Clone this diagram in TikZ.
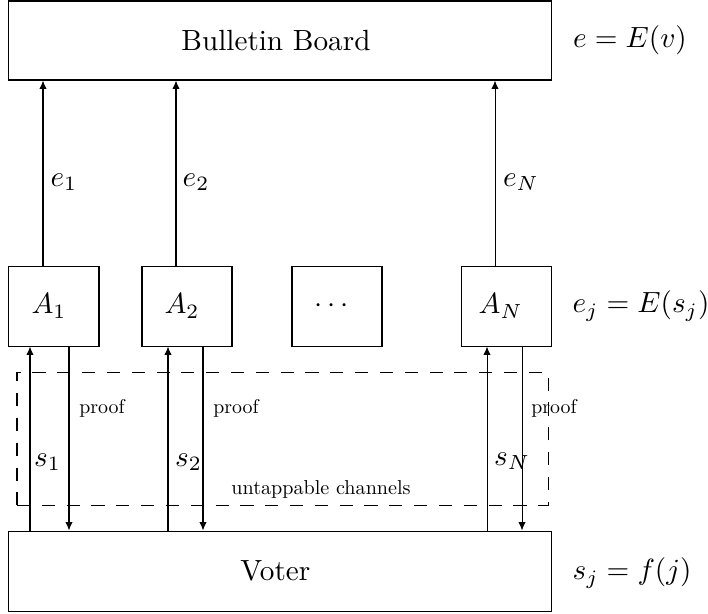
\documentclass[tikz,border=0pt]{standalone}
\usepackage{graphicx}
\usetikzlibrary{fit,arrows.meta}
\begin{document}
\begin{tikzpicture}[x=0.3425pt,y=-0.3425pt,
  box/.style={draw, line width=0.35pt, inner sep=0pt},
  chan/.style={draw, line width=0.35pt, inner sep=0pt, dash pattern=on 4.5pt off 4pt},
  arr/.style={line width=0.35pt, -{Latex[length=2.9pt,width=2.5pt]}},
  small/.style={inner sep=0pt}]
  \useasboundingbox (0,0) rectangle (708,613);

  % main boxes
  \node[box, fit={(8.5,1) (551,80)}] (bb) {};
  \node (bbt) at ([xshift=-1.3pt]bb.center) {Bulletin Board};
  \node[box, fit={(8.5,531) (551,611)}] (voter) {};
  \node (votert) at ([xshift=-1.5pt]voter.center) {Voter};

  % authorities
  \node[box, fit={(8.5,266) (99,346)}] (a1) {};
  \node (a1t) at ([xshift=-1.6pt]a1.center) {$A_1$};
  \node[box, fit={(142,266) (232,346)}] (a2) {};
  \node (a2t) at ([xshift=-1.7pt]a2.center) {$A_2$};
  \node[box, fit={(292,266) (382,346)}] (ad) {};
  \node (adt) at ([xshift=-1.8pt]ad.center) {$\cdots$};
  \node[box, fit={(461,266) (551,346)}] (an) {};
  \node (ant) at ([xshift=-1.8pt]an.center) {$A_N$};

  % untappable channels region
  \node[chan, fit={(17,372) (548,505)}] (ch) {};
  \node[small, anchor=south] (cht) at (321,499) {\scalebox{0.69}{untappable channels}};

  % side equations
  \node (eq1) at (630,40) {$e=E(v)$};
  \node (eq2) at (641,306) {$e_j=E(s_j)$};
  \node (eq3) at (632,573) {$s_j=f(j)$};

  % encrypted shares posted to the board
  \draw[arr] (a1.north -| 43,0) -- (bb.south -| 43,0);
  \draw[arr] (a2.north -| 176,0) -- (bb.south -| 176,0);
  \draw[arr] (an.north -| 495,0) -- (bb.south -| 495,0);
  \node (e1) at (64,182) {$e_1$};
  \node (e2) at (196,182) {$e_2$};
  \node (eN) at (521,182) {$e_N$};

  % voter <-> authority channels
  \draw[arr] (voter.north -| 30,0) -- (a1.south -| 30,0);
  \draw[arr] (a1.south -| 69,0) -- (voter.north -| 69,0);
  \draw[arr] (voter.north -| 168,0) -- (a2.south -| 168,0);
  \draw[arr] (a2.south -| 203,0) -- (voter.north -| 203,0);
  \draw[arr] (voter.north -| 487,0) -- (an.south -| 487,0);
  \draw[arr] (an.south -| 522,0) -- (voter.north -| 522,0);

  \node (s1) at (47.5,462) {$s_1$};
  \node (s2) at (188.5,462) {$s_2$};
  \node (sN) at (512,461) {$s_N$};
  \node[small] (p1) at (102,408) {\scalebox{0.68}{proof}};
  \node[small] (p2) at (236,408) {\scalebox{0.68}{proof}};
  \node[small] (pN) at (554,408) {\scalebox{0.68}{proof}};
\end{tikzpicture}
\end{document}
